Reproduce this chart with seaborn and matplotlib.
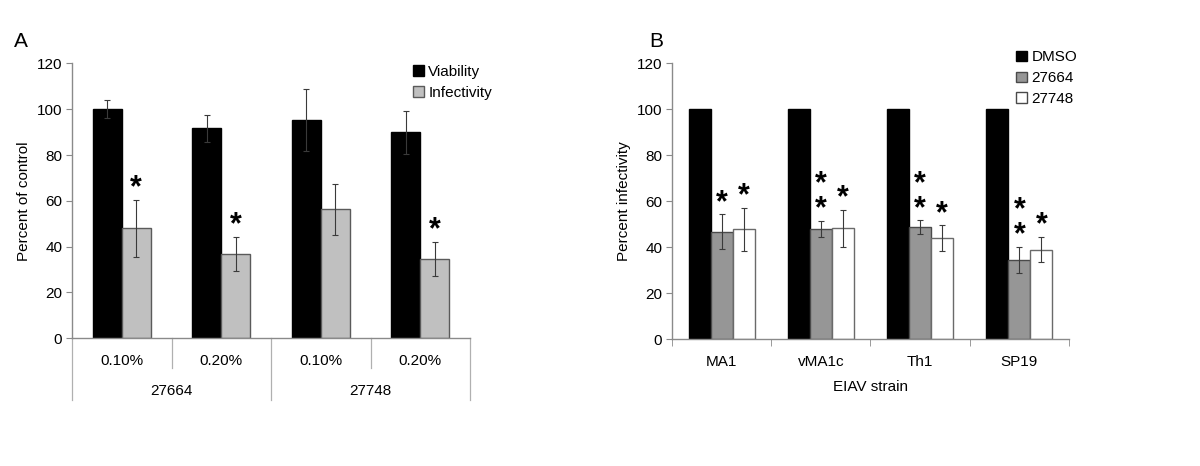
import pandas as pd
import seaborn as sns
import matplotlib.pyplot as plt
from matplotlib.patches import Patch

# ---- panel A data ----
compounds_a = ['27664', '27664', '27748', '27748']
concentrations_a = ['0.10%', '0.20%', '0.10%', '0.20%']
viability = [100.0, 91.6, 95.3, 90.0]
viability_err = [4.0, 6.0, 13.5, 9.4]
infectivity_a = [48.0, 36.8, 56.3, 34.8]
infectivity_a_err = [12.5, 7.6, 11.2, 7.4]
stars_viability = [0, 0, 0, 0]
stars_infectivity = [1, 1, 0, 1]

# ---- panel B data ----
strains = ['MA1', 'vMA1c', 'Th1', 'SP19']
dmso = [100.0, 100.0, 100.0, 100.0]
cmpd_27664 = [46.8, 48.0, 48.7, 34.5]
cmpd_27664_err = [7.5, 3.6, 3.0, 5.8]
cmpd_27748 = [47.8, 48.3, 44.0, 39.0]
cmpd_27748_err = [9.4, 8.0, 5.5, 5.4]
stars_27664 = [1, 2, 2, 2]
stars_27748 = [1, 1, 1, 1]

SPINE = '#8a8a8a'
ERR = '#3a3a3a'
FS = 11

plt.rcParams['font.family'] = ['Liberation Sans', 'DejaVu Sans']
plt.rcParams['font.size'] = FS


def style_axis(ax):
    sns.despine(ax=ax)
    for s in ['left', 'bottom']:
        ax.spines[s].set_color(SPINE)
        ax.spines[s].set_linewidth(1.0)
    ax.set_ylim(0, 120)
    ax.set_yticks(range(0, 121, 20))
    ax.tick_params(axis='y', length=4, color=SPINE, labelsize=FS, pad=3)


def add_errors_and_stars(ax, errs, stars):
    for cont, err, st in zip(ax.containers, errs, stars):
        xs = [b.get_x() + b.get_width() / 2 for b in cont]
        hs = [b.get_height() for b in cont]
        if err is not None:
            ax.errorbar(xs, hs, yerr=err, fmt='none', ecolor=ERR,
                        elinewidth=0.8, capsize=2, capthick=0.8, zorder=3)
        else:
            err = [0] * len(xs)
        for x, h, e, n in zip(xs, hs, err, st):
            if n:
                # stacked asterisks as one text block
                ax.text(x, h + e + 1.5, '\n'.join(['*'] * n), ha='center',
                        va='baseline', fontsize=22, fontweight='bold',
                        linespacing=0.78, color='black')


fig = plt.figure(figsize=(12, 4.66), dpi=100)

# ---------------- Panel A ----------------
ax1 = fig.add_axes([0.06, 0.274, 0.3317, 0.59])
keys = [c + ' ' + p for c, p in zip(compounds_a, concentrations_a)]
df_a = pd.DataFrame({
    'key': keys * 2,
    'value': viability + infectivity_a,
    'series': ['Viability'] * 4 + ['Infectivity'] * 4,
})
pal_a = {'Viability': 'black', 'Infectivity': '#c0c0c0'}
sns.barplot(data=df_a, x='key', y='value', hue='series', order=keys,
            hue_order=['Viability', 'Infectivity'], palette=pal_a,
            saturation=1, width=0.58, errorbar=None, legend=False, ax=ax1)
for cont, ec in zip(ax1.containers, ['black', '#5a5a5a']):
    for b in cont:
        b.set_edgecolor(ec)
        b.set_linewidth(1.0)
add_errors_and_stars(ax1, [viability_err, infectivity_a_err],
                     [stars_viability, stars_infectivity])
style_axis(ax1)
ax1.set_xlim(-0.5, 3.5)
ax1.set_xlabel('')
ax1.set_ylabel('Percent of control', fontsize=FS)
ax1.set_xticks(range(4))
ax1.set_xticklabels([])
ax1.tick_params(axis='x', length=0)
trans = ax1.get_xaxis_transform()
for i, lab in enumerate(concentrations_a):
    ax1.text(i, -0.081, lab, transform=trans, ha='center', va='center', fontsize=FS)
groups = ['27664', '27748']
for g, lab in enumerate(groups):
    ax1.text(2 * g + 0.5, -0.19, lab, transform=trans, ha='center', va='center', fontsize=FS)
for xb in [-0.5, 0.5, 1.5, 2.5, 3.5]:
    depth = -0.225 if xb in (-0.5, 1.5, 3.5) else -0.109
    ax1.plot([xb, xb], [0, depth], transform=trans, color='#b0b0b0', lw=0.9, clip_on=False)
ax1.legend(handles=[Patch(facecolor='black', edgecolor='black', label='Viability'),
                    Patch(facecolor='#c0c0c0', edgecolor='#5a5a5a', label='Infectivity')],
           loc='upper right', bbox_to_anchor=(1.09, 1.045), frameon=False, fontsize=FS,
           handlelength=0.7, handleheight=0.7, handletextpad=0.3, labelspacing=0.45)
fig.text(0.012, 0.912, 'A', fontsize=15, ha='left', va='center')

# ---------------- Panel B ----------------
ax2 = fig.add_axes([0.56, 0.272, 0.3308, 0.592])
df_b = pd.DataFrame({
    'strain': strains * 3,
    'value': dmso + cmpd_27664 + cmpd_27748,
    'treatment': ['DMSO'] * 4 + ['27664'] * 4 + ['27748'] * 4,
})
hue_b = ['DMSO', '27664', '27748']
pal_b = {'DMSO': 'black', '27664': '#969696', '27748': 'white'}
sns.barplot(data=df_b, x='strain', y='value', hue='treatment', order=strains,
            hue_order=hue_b, palette=pal_b, saturation=1, width=0.665,
            errorbar=None, legend=False, ax=ax2)
for cont, ec in zip(ax2.containers, ['black', '#4a4a4a', '#6a6a6a']):
    for b in cont:
        b.set_edgecolor(ec)
        b.set_linewidth(1.0)
add_errors_and_stars(ax2, [None, cmpd_27664_err, cmpd_27748_err],
                     [[0, 0, 0, 0], stars_27664, stars_27748])
style_axis(ax2)
ax2.set_xlim(-0.5, 3.5)
ax2.set_ylabel('Percent infectivity', fontsize=FS)
ax2.set_xlabel('EIAV strain', fontsize=FS, labelpad=8)
ax2.set_xticks([-0.5, 0.5, 1.5, 2.5, 3.5], minor=True)
ax2.tick_params(axis='x', which='minor', length=5, color=SPINE, direction='out')
ax2.tick_params(axis='x', which='major', length=0, pad=11, labelsize=FS)
ax2.legend(handles=[Patch(facecolor=pal_b[h], edgecolor='black' if h == 'DMSO' else '#4a4a4a', label=h)
                    for h in hue_b],
           loc='upper right', bbox_to_anchor=(1.055, 1.097), frameon=False, fontsize=FS,
           handlelength=0.7, handleheight=0.7, handletextpad=0.3, labelspacing=0.45)
fig.text(0.541, 0.912, 'B', fontsize=15, ha='left', va='center')

fig.savefig('out.png', dpi=100)
